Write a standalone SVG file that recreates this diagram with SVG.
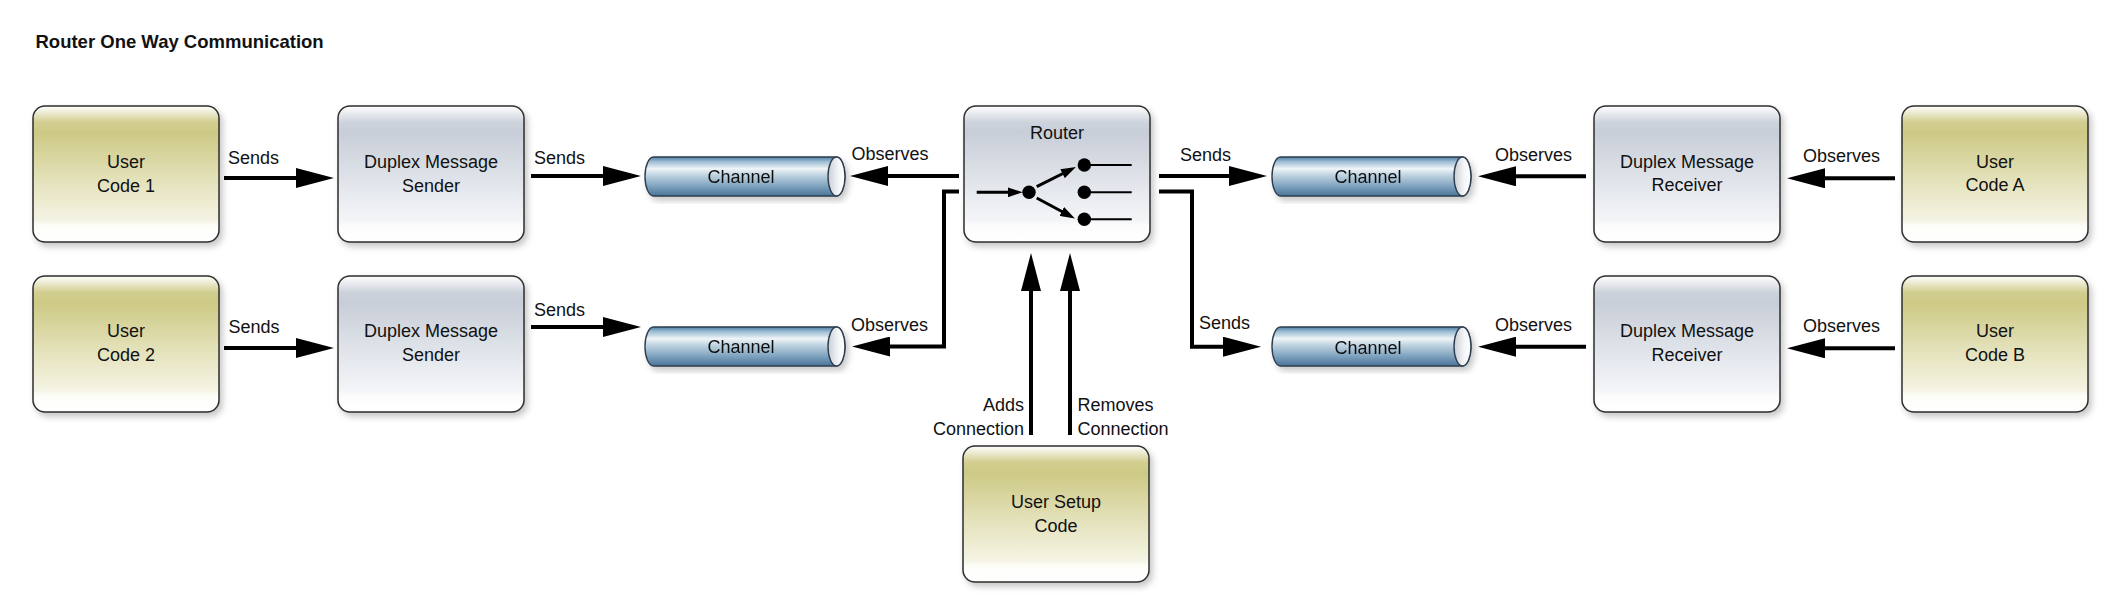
<svg xmlns="http://www.w3.org/2000/svg" width="2120" height="606" viewBox="0 0 2120 606">
<defs>
<style>
text{font-family:"Liberation Sans",Arial,sans-serif;font-size:18px;fill:#111}
.title{font-weight:bold;font-size:18.5px}
.c{text-anchor:middle}
.e{text-anchor:end}
.olive{fill:url(#gOlive);stroke:#2e2e2e;stroke-width:1.5;filter:url(#sh)}
.gray{fill:url(#gGray);stroke:#2e2e2e;stroke-width:1.5;filter:url(#sh)}
.tube{fill:url(#gTube);stroke:#2e3e4e;stroke-width:1.4}
.cap{fill:url(#gCap);stroke:#2e3e4e;stroke-width:1.4}
.conn{fill:none;stroke:#000;stroke-width:4;marker-end:url(#ah)}
.ic{fill:none;stroke:#000;stroke-width:3}
.ia{marker-end:url(#sah)}
.il{stroke:#000;stroke-width:2}
</style>
<linearGradient id="gOlive" x1="0" y1="0" x2="0" y2="1">
<stop offset="0" stop-color="#ffffff"/>
<stop offset="0.12" stop-color="#d2ce90"/>
<stop offset="0.2" stop-color="#cdc985"/>
<stop offset="0.55" stop-color="#e4e2bb"/>
<stop offset="0.84" stop-color="#f5f4e4"/>
<stop offset="0.88" stop-color="#fdfdf8"/>
<stop offset="1" stop-color="#ffffff"/>
</linearGradient>
<linearGradient id="gGray" x1="0" y1="0" x2="0" y2="1">
<stop offset="0" stop-color="#ffffff"/>
<stop offset="0.12" stop-color="#cdd3dc"/>
<stop offset="0.2" stop-color="#c8ced8"/>
<stop offset="0.55" stop-color="#e0e4ea"/>
<stop offset="0.84" stop-color="#f4f5f8"/>
<stop offset="0.88" stop-color="#fcfcfd"/>
<stop offset="1" stop-color="#ffffff"/>
</linearGradient>
<linearGradient id="gTube" x1="0" y1="0" x2="0" y2="1">
<stop offset="0" stop-color="#4f80a6"/>
<stop offset="0.12" stop-color="#9dbdd3"/>
<stop offset="0.3" stop-color="#f0f5f8"/>
<stop offset="0.45" stop-color="#c3d6e3"/>
<stop offset="0.75" stop-color="#7ea2be"/>
<stop offset="1" stop-color="#4a7398"/>
</linearGradient>
<linearGradient id="gCap" x1="0" y1="0" x2="1" y2="0">
<stop offset="0" stop-color="#c9ced4"/>
<stop offset="0.6" stop-color="#f4f6f8"/>
<stop offset="1" stop-color="#ffffff"/>
</linearGradient>
<filter id="sh" x="-10%" y="-10%" width="125%" height="130%">
<feDropShadow dx="3" dy="4" stdDeviation="3" flood-color="#000" flood-opacity="0.22"/>
</filter>
<marker id="ah" markerUnits="userSpaceOnUse" viewBox="0 0 38 20" refX="8" refY="10" markerWidth="38" markerHeight="20" orient="auto">
<path d="M0,0 L38,10 L0,20 Z" fill="#000"/>
</marker>
<marker id="sah" markerUnits="userSpaceOnUse" viewBox="0 0 15 10" refX="6" refY="5" markerWidth="15" markerHeight="10" orient="auto">
<path d="M0,0 L15,5 L0,10 Z" fill="#000"/>
</marker>
</defs>
<rect width="2120" height="606" fill="#fff"/>
<text class="title" x="35.5" y="48.3">Router One Way Communication</text>

<g id="connectors">
<path class="conn" d="M224,178 H304"/>
<path class="conn" d="M531,176 H611"/>
<path class="conn" d="M224,348 H304"/>
<path class="conn" d="M531,327 H611"/>
<path class="conn" d="M959,176 H880"/>
<path class="conn" d="M959,191.5 H944 V346.5 H882"/>
<path class="conn" d="M1159,176 H1237"/>
<path class="conn" d="M1159,191.5 H1192 V346.7 H1231"/>
<path class="conn" d="M1586,176.3 H1508"/>
<path class="conn" d="M1895,178.3 H1817"/>
<path class="conn" d="M1586,346.7 H1508"/>
<path class="conn" d="M1895,348.3 H1817"/>
<path class="conn" d="M1031,435 V283"/>
<path class="conn" d="M1070,435 V283"/>
<text x="228" y="163.5">Sends</text>
<text x="534" y="164">Sends</text>
<text x="228.5" y="332.7">Sends</text>
<text x="534" y="316">Sends</text>
<text x="851.5" y="160">Observes</text>
<text x="851" y="330.7">Observes</text>
<text x="1180" y="161">Sends</text>
<text x="1199" y="329.3">Sends</text>
<text x="1495" y="161">Observes</text>
<text x="1495" y="331">Observes</text>
<text x="1803" y="161.7">Observes</text>
<text x="1803" y="332.3">Observes</text>
<text class="e" x="1024" y="411">Adds</text>
<text class="e" x="1024" y="435">Connection</text>
<text x="1077.5" y="411">Removes</text>
<text x="1077.5" y="435">Connection</text>
</g>

<g id="user-code-1">
<rect class="olive" x="33" y="106" width="186" height="136" rx="12"/>
<text class="c" x="126" y="167.5">User</text>
<text class="c" x="126" y="191.5">Code 1</text>
</g>
<g id="sender-1">
<rect class="gray" x="338" y="106" width="186" height="136" rx="12"/>
<text class="c" x="431" y="167.5">Duplex Message</text>
<text class="c" x="431" y="191.5">Sender</text>
</g>
<g id="user-code-2">
<rect class="olive" x="33" y="276" width="186" height="136" rx="12"/>
<text class="c" x="126" y="337">User</text>
<text class="c" x="126" y="361">Code 2</text>
</g>
<g id="sender-2">
<rect class="gray" x="338" y="276" width="186" height="136" rx="12"/>
<text class="c" x="431" y="337">Duplex Message</text>
<text class="c" x="431" y="361">Sender</text>
</g>

<g id="channel-1" filter="url(#sh)">
<path class="tube" d="M653.5,157 H836.5 A8.5,19.5 0 0 1 836.5,196 H653.5 A8.5,19.5 0 0 1 653.5,157 Z"/>
<ellipse class="cap" cx="836.5" cy="176.5" rx="8.5" ry="19.5"/>
<text class="c" x="741" y="182.5">Channel</text>
</g>
<g id="channel-2" filter="url(#sh)">
<path class="tube" d="M653.5,327 H836.5 A8.5,19.5 0 0 1 836.5,366 H653.5 A8.5,19.5 0 0 1 653.5,327 Z"/>
<ellipse class="cap" cx="836.5" cy="346.5" rx="8.5" ry="19.5"/>
<text class="c" x="741" y="353">Channel</text>
</g>

<g id="router">
<rect class="gray" x="964" y="106" width="186" height="136" rx="12"/>
<text class="c" x="1057" y="139">Router</text>
<line class="ic ia" x1="976.7" y1="192.3" x2="1013.7" y2="192.3"/>
<circle cx="1029" cy="192.3" r="6.7" fill="#000"/>
<line class="ic ia" x1="1036.7" y1="186.7" x2="1067.9" y2="171"/>
<line class="ic ia" x1="1036.7" y1="198" x2="1067" y2="214.3"/>
<circle cx="1084.3" cy="165" r="6.7" fill="#000"/>
<circle cx="1084.3" cy="192.3" r="6.7" fill="#000"/>
<circle cx="1084.3" cy="219.3" r="6.7" fill="#000"/>
<line class="il" x1="1090" y1="165" x2="1131.7" y2="165"/>
<line class="il" x1="1090" y1="192.3" x2="1131.7" y2="192.3"/>
<line class="il" x1="1090" y1="219.3" x2="1131.7" y2="219.3"/>
</g>

<g id="channel-a" filter="url(#sh)">
<path class="tube" d="M1280.5,157 H1462.5 A8.5,19.5 0 0 1 1462.5,196 H1280.5 A8.5,19.5 0 0 1 1280.5,157 Z"/>
<ellipse class="cap" cx="1462.5" cy="176.5" rx="8.5" ry="19.5"/>
<text class="c" x="1368" y="183">Channel</text>
</g>
<g id="channel-b" filter="url(#sh)">
<path class="tube" d="M1280.5,327 H1462.5 A8.5,19.5 0 0 1 1462.5,366 H1280.5 A8.5,19.5 0 0 1 1280.5,327 Z"/>
<ellipse class="cap" cx="1462.5" cy="346.5" rx="8.5" ry="19.5"/>
<text class="c" x="1368" y="353.5">Channel</text>
</g>

<g id="receiver-a">
<rect class="gray" x="1594" y="106" width="186" height="136" rx="12"/>
<text class="c" x="1687" y="167.5">Duplex Message</text>
<text class="c" x="1687" y="191">Receiver</text>
</g>
<g id="receiver-b">
<rect class="gray" x="1594" y="276" width="186" height="136" rx="12"/>
<text class="c" x="1687" y="337">Duplex Message</text>
<text class="c" x="1687" y="361">Receiver</text>
</g>
<g id="user-code-a">
<rect class="olive" x="1902" y="106" width="186" height="136" rx="12"/>
<text class="c" x="1995" y="167.5">User</text>
<text class="c" x="1995" y="191">Code A</text>
</g>
<g id="user-code-b">
<rect class="olive" x="1902" y="276" width="186" height="136" rx="12"/>
<text class="c" x="1995" y="337">User</text>
<text class="c" x="1995" y="361">Code B</text>
</g>
<g id="user-setup-code">
<rect class="olive" x="963" y="446" width="186" height="136" rx="12"/>
<text class="c" x="1056" y="508">User Setup</text>
<text class="c" x="1056" y="531.7">Code</text>
</g>
</svg>
